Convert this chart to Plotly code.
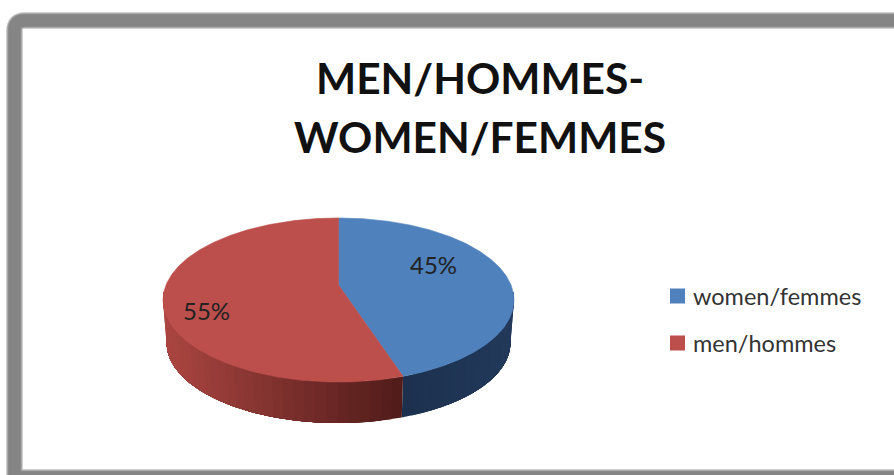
import math
import plotly.graph_objects as go

# ---- data ----
categories = ["women/femmes", "men/hommes"]
values = [45, 55]
title_lines = ["MEN/HOMMES-", "WOMEN/FEMMES"]

# ---- styling ----
top_colors = ["#4F81BD", "#BC4F4C"]
W, H = 894, 475
CX, CY, A, B, K = 338.5, 285.0, 172.5, 79.3, 0.183
DEPTH, SHRINK = 43.0, 0.98
SILHOUETTE = math.degrees(math.acos(-K))


def project(theta, lower=False):
    """Perspective projection of a point on the pie rim (clockwise from top)."""
    t = math.radians(theta)
    u, v = math.sin(t), math.cos(t)
    w = 1 + K * v
    s = SHRINK if lower else 1.0
    off = DEPTH if lower else 0.0
    return CX + s * A * u / w, CY + off - s * B * v / w


def arc(a, b, lower=False, step=1.0):
    n = max(2, int(abs(b - a) / step) + 1)
    return [project(a + (b - a) * i / (n - 1), lower) for i in range(n)]


def mix(c1, c2, f):
    f = min(1.0, max(0.0, f))
    return "rgb(%d,%d,%d)" % tuple(round(p + (q - p) * f) for p, q in zip(c1, c2))


fig = go.Figure()

# slice angles from the values
total = sum(values)
angles, start = [], 0.0
for v in values:
    angles.append((start, start + 360.0 * v / total))
    start += 360.0 * v / total

side_shades = [((0x1C, 0x30, 0x4E), (0x22, 0x39, 0x5A)), ((0x52, 0x1C, 0x1A), (0xAC, 0x46, 0x42))]
for (a0, a1), cat, shades in zip(angles, categories, side_shades):
    lo, hi = max(a0, SILHOUETTE - 6), min(a1, 360 - SILHOUETTE + 6)
    if hi <= lo:
        continue
    n = max(1, int((hi - lo) / 3))
    # painter's order: each strip runs to the far end of the slice, so no seams show
    order = range(n) if cat == categories[1] else range(n - 1, -1, -1)
    for i in order:
        a = lo + (hi - lo) * i / n
        b = lo + (hi - lo) * (i + 1) / n
        if cat == categories[1]:
            p, q = a, hi
        else:
            p, q = lo, b
        pts = arc(p, q, step=0.5) + arc(q, p, lower=True, step=0.5)
        xs, ys = zip(*pts)
        xm = project(a)[0]
        f = (xm - 403) / 107 if cat == categories[0] else (403 - xm) / 240
        col = mix(shades[0], shades[1], f)
        fig.add_trace(go.Scatter(x=xs + xs[:1], y=ys + ys[:1], mode="lines", fill="toself",
                                 fillcolor=col, line=dict(width=0),
                                 hoverinfo="skip", showlegend=False))

for (a0, a1), cat, col, val in zip(angles, categories, top_colors, values):
    pts = [(CX, CY)] + arc(a0, a1, step=0.5) + [(CX, CY)]
    xs, ys = zip(*pts)
    fig.add_trace(go.Scatter(x=xs, y=ys, mode="lines", fill="toself", fillcolor=col,
                             line=dict(color=col, width=0.6), name=cat,
                             text=f"{cat}: {val}%", hoverinfo="text", showlegend=False))

# frame: wide soft band, then the solid band
r = 10
frame = (f"M 14.5,490 L 14.5,{20.5 + r} Q 14.5,20.5 {14.5 + r},20.5 L 910,20.5 "
         f"M 14.5,477.5 L 910,477.5")
shapes = [
    dict(type="path", path=frame, xref="x", yref="y", line=dict(color="#C4C4C4", width=16.5), layer="above"),
    dict(type="path", path=frame, xref="x", yref="y", line=dict(color="#A0A0A0", width=14.5), layer="above"),
    dict(type="path", path=frame, xref="x", yref="y", line=dict(color="#858585", width=12.5), layer="above"),
]

annotations = [
    dict(text=f"{values[0]}%", x=433, y=264),
    dict(text=f"{values[1]}%", x=206, y=310),
]
annotations = [dict(a, xref="x", yref="y", showarrow=False, xanchor="center", yanchor="middle",
                    font=dict(family="Lato", size=24, color="#222222")) for a in annotations]

# legend, laid out like the original
for i, (cat, col) in enumerate(zip(categories, top_colors)):
    yc = 296 + i * 47
    shapes.append(dict(type="rect", xref="x", yref="y", x0=670, x1=685, y0=yc - 7.5, y1=yc + 7.5,
                       fillcolor=col, line=dict(width=0)))
    annotations.append(dict(text=cat, x=690.5, y=yc, xref="x", yref="y", showarrow=False,
                            xanchor="left", yanchor="middle",
                            font=dict(family="Lato", size=23.5, color="#333333")))

# title
for line, yc in zip(title_lines, (77, 136)):
    annotations.append(dict(text=f"<b>{line}</b>", x=480, y=yc, xref="x", yref="y",
                            showarrow=False, xanchor="center", yanchor="middle", align="center",
                            font=dict(family="Lato", size=42.5, color="#111111")))

fig.update_layout(
    width=W, height=H, margin=dict(l=0, r=0, t=0, b=0),
    paper_bgcolor="white", plot_bgcolor="white", showlegend=False,
    xaxis=dict(range=[0, W], visible=False, fixedrange=True),
    yaxis=dict(range=[H, 0], visible=False, fixedrange=True),
    shapes=shapes, annotations=annotations,
)
fig.write_html("out.html", config=dict(displayModeBar=False),
               post_script="document.body.style.margin='0';")
